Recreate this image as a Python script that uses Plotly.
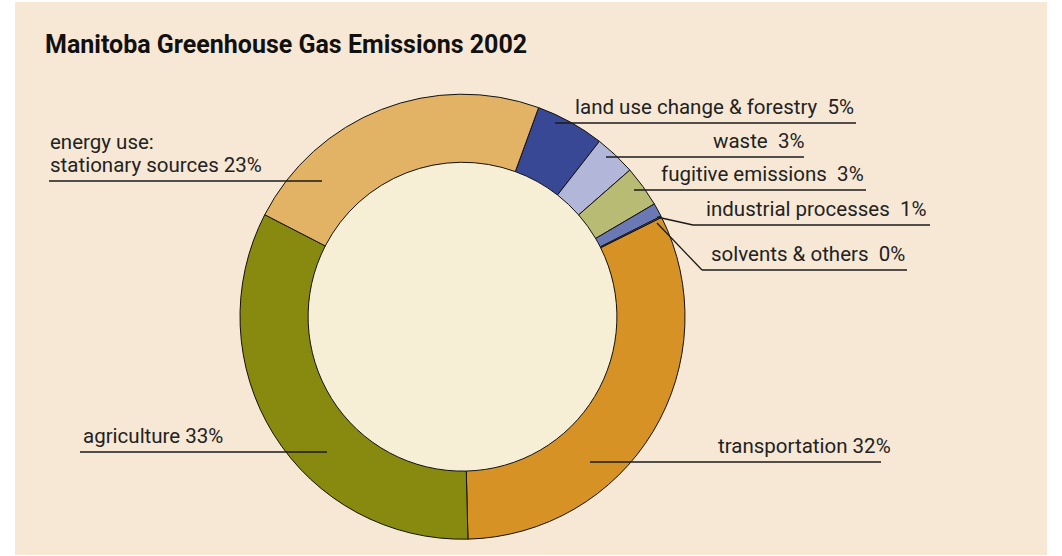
import plotly.graph_objects as go

W, H = 1062, 556

# ---- data ----
categories = ["land use change & forestry", "waste", "fugitive emissions",
              "industrial processes", "solvents & others", "transportation",
              "agriculture", "energy use: stationary sources"]
values = [5, 3, 3, 1, 0.1, 32, 33, 23]
pct_labels = ["5%", "3%", "3%", "1%", "0%", "32%", "33%", "23%"]
colors = ["#384894", "#b2b6d8", "#b8bb74", "#6a78b3", "#6a78b3",
          "#d69224", "#888a10", "#e2b265"]

BG = "#f7e8d5"
HOLE = "#f6efd6"
FONT = "Roboto"

# pie geometry in pixels
cx, cy, R = 462.5, 316.7, 222.5
hole = 0.694

def px(x):
    return x / W

def py(y):
    return 1 - y / H

fig = go.Figure()
fig.add_trace(go.Pie(
    labels=categories, values=values, sort=False, direction="clockwise",
    rotation=20, hole=hole, textinfo="none", hoverinfo="skip",
    marker=dict(colors=colors, line=dict(color="#111111", width=1)),
    domain=dict(x=[px(cx - R), px(cx + R)], y=[py(cy + R), py(cy - R)]),
    showlegend=False,
))

shapes = [
    dict(type="rect", xref="paper", yref="paper", x0=px(15), x1=px(1047),
         y0=py(555), y1=py(2), fillcolor=BG, line=dict(width=0), layer="below"),
    dict(type="circle", xref="paper", yref="paper",
         x0=px(cx - R * hole), x1=px(cx + R * hole),
         y0=py(cy + R * hole), y1=py(cy - R * hole),
         fillcolor=HOLE, line=dict(width=0), layer="below"),
]

# leader lines: (points in px), label lines, anchor x, side, underline y
leaders = [
    ([(555, 123), (856, 123)], ["land use change & forestry\u00a0 " + pct_labels[0]], 856, "right", 123),
    ([(606, 157), (804, 157)], ["waste\u00a0 " + pct_labels[1]], 806, "right", 157),
    ([(634, 190), (866, 190)], ["fugitive emissions\u00a0 " + pct_labels[2]], 866, "right", 190),
    ([(657, 217), (693, 225), (930, 225)], ["industrial processes\u00a0 " + pct_labels[3]], 928, "right", 225),
    ([(657, 223), (702, 270), (907, 270)], ["solvents & others\u00a0 " + pct_labels[4]], 907, "right", 270),
    ([(590, 462), (881, 462)], ["transportation " + pct_labels[5]], 893, "right", 462),
    ([(80, 452), (327, 452)], ["agriculture " + pct_labels[6]], 81, "left", 452),
    ([(49, 181), (322, 181)], ["energy use:", "stationary sources " + pct_labels[7]], 48, "left", 181),
]

annotations = []
for pts, lines, ax, side, ly in leaders:
    for (x0, y0), (x1, y1) in zip(pts[:-1], pts[1:]):
        shapes.append(dict(type="line", xref="paper", yref="paper",
                           x0=px(x0), y0=py(y0), x1=px(x1), y1=py(y1),
                           line=dict(color="#1a1a1a", width=1.3)))
    n = len(lines)
    for i, t in enumerate(lines):
        annotations.append(dict(
            x=px(ax), y=py(ly - 2 - 23 * (n - 1 - i)), xref="paper", yref="paper",
            text=t, showarrow=False, xanchor=side, yanchor="bottom",
            align="left", font=dict(family=FONT, size=20.5, color="#222222"),
        ))

annotations.append(dict(
    x=px(43), y=py(45), xref="paper", yref="paper",
    text="<b>Manitoba Greenhouse Gas Emissions 2002</b>", showarrow=False,
    xanchor="left", yanchor="middle",
    font=dict(family=FONT, size=25, color="#111111"),
))

fig.update_layout(
    width=W, height=H, margin=dict(l=0, r=0, t=0, b=0),
    paper_bgcolor="white", plot_bgcolor="white",
    shapes=shapes, annotations=annotations,
)

fig.write_html("out.html", config={"displayModeBar": False},
               post_script="document.body.style.margin='0px';")
